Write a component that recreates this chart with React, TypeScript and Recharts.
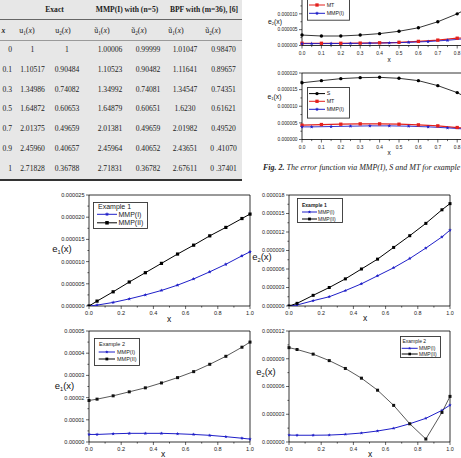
import React from 'react';
import { LineChart, Line, XAxis, YAxis, ReferenceArea } from 'recharts';

const SANS = '"Liberation Sans", Arial, sans-serif';
const SERIF = '"Liberation Serif", "Times New Roman", serif';
const BLUE = '#1f1fc8';
const RED = '#e3201c';
const BLACK = '#000000';

// ---------- Table data ----------
const groupHeads = ['Exact', 'MMP(I) with (n=5)', 'BPF with (m=36), [6]'];
const subHeadBase = ['u', 'u', 'ũ', 'ũ', 'ũ', 'ũ'];
const subHeadIdx = ['1', '2', '1', '2', '1', '2'];
const tableX = ['0', '0.1', '0.3', '0.5', '0.7', '0.9', '1'];
const exactU1 = ['1', '1.10517', '1.34986', '1.64872', '2.01375', '2.45960', '2.71828'];
const exactU2 = ['1', '0.90484', '0.74082', '0.60653', '0.49659', '0.40657', '0.36788'];
const mmpU1 = ['1.00006', '1.10523', '1.34992', '1.64879', '2.01381', '2.45964', '2.71831'];
const mmpU2 = ['0.99999', '0.90482', '0.74081', '0.60651', '0.49659', '0.40652', '0.36782'];
const bpfU1 = ['1.01047', '1.11641', '1.34547', '1.6230', '2.01982', '2.43651', '2.67611'];
const bpfU2 = ['0.98470', '0.89657', '0.74351', '0.61621', '0.49520', '0 .41070', '0 .37401'];

// ---------- Fig. 2 (top right) ----------
const fig2X = [0, 0.1, 0.2, 0.3, 0.4, 0.5, 0.6, 0.7, 0.8, 0.9, 1.0];
const fig2MmpX = [0, 0.05, 0.15, 0.25, 0.35, 0.45, 0.55, 0.65, 0.75, 0.85, 0.95, 1.0];
const fig2E2S = [3.3e-6, 3.0e-6, 3.0e-6, 3.3e-6, 3.75e-6, 4.5e-6, 5.6e-6, 7.5e-6, 10.0e-6, 13.2e-6, 17.0e-6];
const fig2E2MT = [0.7e-6, 0.7e-6, 0.7e-6, 0.75e-6, 0.85e-6, 1.0e-6, 1.3e-6, 1.7e-6, 2.3e-6, 3.0e-6, 3.9e-6];
const fig2E2MMP = [0.6e-6, 0.6e-6, 0.62e-6, 0.65e-6, 0.72e-6, 0.82e-6, 1.0e-6, 1.25e-6, 1.65e-6, 2.2e-6, 2.9e-6, 3.3e-6];
const fig2E1S = [17.05e-6, 17.7e-6, 18.3e-6, 18.6e-6, 18.7e-6, 18.4e-6, 17.7e-6, 16.2e-6, 14.1e-6, 11.0e-6, 7.5e-6];
const fig2E1MT = [4.3e-6, 4.5e-6, 4.6e-6, 4.7e-6, 4.7e-6, 4.6e-6, 4.4e-6, 4.1e-6, 3.6e-6, 3.0e-6, 2.3e-6];
const fig2E1MMP = [3.8e-6, 3.8e-6, 3.9e-6, 4.0e-6, 4.1e-6, 4.1e-6, 4.0e-6, 3.8e-6, 3.5e-6, 3.1e-6, 2.6e-6, 2.3e-6];
const fig2XTicks = [0, 0.1, 0.2, 0.3, 0.4, 0.5, 0.6, 0.7, 0.8, 0.9, 1.0];
const fig2E2YTicks = [0, 0.000005, 0.00001, 0.000015];
const fig2E1YTicks = [0, 0.000005, 0.00001, 0.000015, 0.00002];

// ---------- Bottom panels ----------
const errX = [0, 0.05, 0.15, 0.25, 0.35, 0.45, 0.55, 0.65, 0.75, 0.85, 0.95, 1.0];
const ex1E1MMP1 = [0, 0.2e-6, 0.8e-6, 1.6e-6, 2.5e-6, 3.5e-6, 4.7e-6, 6.1e-6, 7.7e-6, 9.4e-6, 11.3e-6, 12.2e-6];
const ex1E1MMP2 = [0, 1.1e-6, 3.2e-6, 5.4e-6, 7.5e-6, 9.6e-6, 11.7e-6, 13.7e-6, 15.8e-6, 17.7e-6, 19.7e-6, 20.7e-6];
const ex1E2MMP1 = [0, 0.16e-6, 0.86e-6, 1.5e-6, 2.5e-6, 3.6e-6, 4.9e-6, 6.2e-6, 7.7e-6, 9.4e-6, 11.2e-6, 12.3e-6];
const ex1E2MMP2 = [0, 0.43e-6, 1.73e-6, 3.0e-6, 4.4e-6, 6.0e-6, 7.6e-6, 9.5e-6, 11.4e-6, 13.4e-6, 15.6e-6, 16.6e-6];
const ex2E1MMP1 = [3.4e-6, 3.4e-6, 3.7e-6, 3.9e-6, 3.9e-6, 3.9e-6, 3.7e-6, 3.4e-6, 3.0e-6, 2.4e-6, 1.7e-6, 1.3e-6];
const ex2E1MMP2 = [1.87e-5, 1.93e-5, 2.08e-5, 2.26e-5, 2.44e-5, 2.66e-5, 2.9e-5, 3.17e-5, 3.5e-5, 3.86e-5, 4.27e-5, 4.5e-5];
const ex2E2MMP1 = [0.75e-6, 0.73e-6, 0.73e-6, 0.75e-6, 0.83e-6, 0.97e-6, 1.19e-6, 1.48e-6, 1.97e-6, 2.56e-6, 3.42e-6, 3.99e-6];
const ex2E2MMP2 = [10.2e-6, 10.0e-6, 9.5e-6, 8.8e-6, 7.95e-6, 6.9e-6, 5.6e-6, 3.96e-6, 1.97e-6, 0.32e-6, 3.2e-6, 4.93e-6];
const bottomXTicks = [0, 0.2, 0.4, 0.6, 0.8, 1.0];
const ex1E1YTicks = [0, 0.000005, 0.00001, 0.000015, 0.00002, 0.000025];
const ex1E2YTicks = [0, 0.000003, 0.000006, 0.000009, 0.000012, 0.000015, 0.000018];
const ex2E1YTicks = [0, 0.00001, 0.00002, 0.00003, 0.00004, 0.00005];
const ex2E2YTicks = [0, 0.000003, 0.000006, 0.000009, 0.000012];

// ---------- helpers ----------
type Pt = { x: number; y: number };
type Shape = 'square' | 'star' | 'circle';
const pts = (xs: number[], ys: number[]): Pt[] => xs.map((x, i) => ({ x, y: ys[i] }));
const withMinor = (t: number[]) => {
  const out: number[] = [];
  t.forEach((v, i) => {
    out.push(v);
    if (i < t.length - 1) out.push((v + t[i + 1]) / 2);
  });
  return out;
};
const isIn = (v: number, arr: number[]) => arr.some((m) => Math.abs(m - v) < 1e-12);

function Marker({ cx, cy, shape, size, color }: { cx: number; cy: number; shape: Shape; size: number; color: string }) {
  if (cx == null || cy == null || isNaN(cx) || isNaN(cy)) return null;
  if (shape === 'square') return <rect x={cx - size / 2} y={cy - size / 2} width={size} height={size} fill={color} />;
  if (shape === 'circle') return <circle cx={cx} cy={cy} r={size / 2} fill={color} />;
  const p: string[] = [];
  for (let i = 0; i < 10; i++) {
    const r = i % 2 === 0 ? size / 2 : size / 4.5;
    const a = -Math.PI / 2 + (i * Math.PI) / 5;
    p.push(`${cx + r * Math.cos(a)},${cy + r * Math.sin(a)}`);
  }
  return <polygon points={p.join(' ')} fill={color} />;
}

function makeYTick(major: number[], digits: number, fs: number) {
  return (p: any) => {
    const v = p.payload.value;
    const maj = isIn(v, major);
    const len = maj ? 3 : 1.6;
    return (
      <g key={`y${p.index}`}>
        <line x1={p.x} x2={p.x - len} y1={p.y} y2={p.y} stroke="#000" strokeWidth={0.6} />
        {maj && (
          <text x={p.x - 4.5} y={p.y} dy={fs * 0.35} textAnchor="end" fontSize={fs} fontFamily={SANS} fill="#222">
            {v.toFixed(digits)}
          </text>
        )}
      </g>
    );
  };
}

function makeXTick(major: number[], fs: number, gap: number) {
  return (p: any) => {
    const v = p.payload.value;
    const maj = isIn(v, major);
    const len = maj ? 3 : 1.6;
    return (
      <g key={`x${p.index}`}>
        <line x1={p.x} x2={p.x} y1={p.y} y2={p.y + len} stroke="#000" strokeWidth={0.6} />
        {maj && (
          <text x={p.x} y={p.y + gap} dy={fs * 0.35} textAnchor="middle" fontSize={fs} fontFamily={SANS} fill="#222">
            {v.toFixed(1)}
          </text>
        )}
      </g>
    );
  };
}

interface Series { data: Pt[]; color: string; width: number; shape: Shape; size: number }
interface PanelProps {
  left: number; top: number; w: number; h: number; yMax: number;
  yTicks: number[]; yDigits: number; xTicks: number[]; tickFs: number; xGap: number; series: Series[];
}

function Panel({ left, top, w, h, yMax, yTicks, yDigits, xTicks, tickFs, xGap, series }: PanelProps) {
  const L = 44, T = 6, R = 6, H = 16;
  return (
    <div style={{ position: 'absolute', left: left - L, top: top - T }}>
      <LineChart width={L + w + R} height={T + h + H} margin={{ top: T, right: R, bottom: 0, left: 0 }}>
        <XAxis dataKey="x" type="number" domain={[0, 1]} ticks={withMinor(xTicks)} interval={0} height={H}
          tickSize={0} tickMargin={0} tickLine={false} axisLine={false} tick={makeXTick(xTicks, tickFs, xGap)} />
        <YAxis type="number" domain={[0, yMax]} allowDataOverflow ticks={withMinor(yTicks)} interval={0} width={L}
          tickSize={0} tickMargin={0} tickLine={false} axisLine={false} tick={makeYTick(yTicks, yDigits, tickFs)} />
        <ReferenceArea x1={0} x2={1} y1={0} y2={yMax} fill="none" stroke="#000" strokeWidth={0.8} ifOverflow="visible" />
        {series.map((s, i) => (
          <Line key={i} data={s.data} dataKey="y" type="linear" stroke={s.color} strokeWidth={s.width}
            activeDot={false} isAnimationActive={false}
            dot={(p: any) => <Marker key={`d${i}-${p.index}`} cx={p.cx} cy={p.cy} shape={s.shape} size={s.size} color={s.color} />} />
        ))}
      </LineChart>
    </div>
  );
}

interface LegendRow { label: string; color: string; shape: Shape; size: number }
function LegendBox({ left, top, w, h, title, titleBold, titleX, titleY, rows, rowYs, lineX1, lineX2, textX, fs }: {
  left: number; top: number; w: number; h: number; title?: string; titleBold?: boolean; titleX?: number; titleY?: number;
  rows: LegendRow[]; rowYs: number[]; lineX1: number; lineX2: number; textX: number; fs: number;
}) {
  return (
    <svg style={{ position: 'absolute', left, top, overflow: 'visible' }} width={w} height={h}>
      <rect x={0.5} y={0.5} width={w - 1} height={h - 1} fill="#fff" stroke="#333" strokeWidth={0.9} />
      {title && (
        <text x={titleX} y={(titleY || 0) + fs * 0.35} fontSize={fs} fontFamily={SANS} fontWeight={titleBold ? 'bold' : 'normal'} fill="#222">
          {title}
        </text>
      )}
      {rows.map((r, i) => (
        <g key={i}>
          <line x1={lineX1} x2={lineX2} y1={rowYs[i]} y2={rowYs[i]} stroke={r.color} strokeWidth={1} />
          <Marker cx={(lineX1 + lineX2) / 2} cy={rowYs[i]} shape={r.shape} size={r.size} color={r.color} />
          <text x={textX} y={rowYs[i] + fs * 0.35} fontSize={fs} fontFamily={SANS} fill="#222">{r.label}</text>
        </g>
      ))}
    </svg>
  );
}

function AxisLabel({ cx, cy, fs, base, sub }: { cx: number; cy: number; fs: number; base: string; sub?: string }) {
  return (
    <div style={{ position: 'absolute', left: cx, top: cy, transform: 'translate(-50%,-50%)', fontFamily: SANS, fontSize: fs, color: '#111', whiteSpace: 'nowrap', lineHeight: 1 }}>
      {base}
      {sub && <span style={{ fontSize: '0.6em', position: 'relative', top: '0.35em' }}>{sub}</span>}
      {sub && '(x)'}
    </div>
  );
}

function Table() {
  const groupCenters = [54.5, 127, 204];
  const headCenters = [27, 63, 102, 139, 176, 213];
  const colCenters = [32.5, 67, 110, 148, 185, 223.5];
  const cols = [exactU1, exactU2, mmpU1, mmpU2, bpfU1, bpfU2];
  const cell = (left: number, top: number, content: React.ReactNode, key: string, extra: React.CSSProperties = {}) => (
    <div key={key} style={{ position: 'absolute', left, top, transform: 'translate(-50%,-50%)', whiteSpace: 'nowrap', lineHeight: 1, ...extra }}>
      {content}
    </div>
  );
  return (
    <div style={{ position: 'absolute', left: 0, top: 0, width: 242, height: 181, background: '#e7e7e7', fontFamily: SERIF, fontSize: 7.6, color: '#222' }}>
      <div style={{ position: 'absolute', left: 0, top: 19, width: 242, height: 1, background: '#666' }} />
      <div style={{ position: 'absolute', left: 0, top: 39.5, width: 242, height: 1.5, background: '#9a9a9a' }} />
      <div style={{ position: 'absolute', left: 0, top: 179, width: 242, height: 2, background: '#333' }} />
      {groupHeads.map((g, i) => cell(groupCenters[i], 10, g, `g${i}`, { fontWeight: 'bold' }))}
      {cell(3.5, 31, 'x', 'hx', { fontStyle: 'italic', fontWeight: 'bold' })}
      {subHeadBase.map((b, i) =>
        cell(headCenters[i], 31, (
          <span>{b}<span style={{ fontSize: '0.65em', position: 'relative', top: '0.3em' }}>{subHeadIdx[i]}</span>(<i>x</i>)</span>
        ), `h${i}`, { fontSize: 8 })
      )}
      {tableX.map((x, r) => (
        <React.Fragment key={`r${r}`}>
          <div style={{ position: 'absolute', right: 242 - 12, top: 50 + r * 19.8, transform: 'translateY(-50%)', lineHeight: 1, whiteSpace: 'nowrap' }}>{x}</div>
          {cols.map((c, ci) => cell(colCenters[ci], 50 + r * 19.8, c[r], `c${r}-${ci}`))}
        </React.Fragment>
      ))}
    </div>
  );
}

export default function App() {
  const blueStar = (data: Pt[], size: number, width: number): Series => ({ data, color: BLUE, width, shape: 'star', size });
  const blackSq = (data: Pt[], size: number, width: number, color = BLACK): Series => ({ data, color, width, shape: 'square', size });
  return (
    <div style={{ position: 'absolute', left: 0, top: 0, width: 461, height: 458, overflow: 'hidden', background: '#fff' }}>
      <Table />

      {/* Fig. 2 top: e2 */}
      <Panel left={302} top={-2.5} w={194} h={47.5} yMax={0.000015} yTicks={fig2E2YTicks} yDigits={6}
        xTicks={fig2XTicks} tickFs={4.8} xGap={8.3}
        series={[
          { data: pts(fig2X, fig2E2S), color: BLACK, width: 0.8, shape: 'circle', size: 3.4 },
          { data: pts(fig2X, fig2E2MT), color: RED, width: 1.3, shape: 'square', size: 3.3 },
          blueStar(pts(fig2MmpX, fig2E2MMP), 4, 0.9),
        ]} />
      <LegendBox left={307} top={-10} w={43} h={30.7} rows={[
        { label: 'S', color: BLACK, shape: 'circle', size: 3.4 },
        { label: 'MT', color: RED, shape: 'square', size: 3.3 },
        { label: 'MMP(I)', color: BLUE, shape: 'star', size: 4 },
      ]} rowYs={[7, 15, 23.3]} lineX1={2} lineX2={18} textX={19.7} fs={5.3} />
      <AxisLabel cx={275} cy={21.7} fs={6.8} base="e" sub="2" />
      <AxisLabel cx={389} cy={60} fs={6.5} base="x" />

      {/* Fig. 2 bottom: e1 */}
      <Panel left={302} top={72.5} w={194} h={66.5} yMax={0.00002} yTicks={fig2E1YTicks} yDigits={6}
        xTicks={fig2XTicks} tickFs={4.8} xGap={8}
        series={[
          { data: pts(fig2X, fig2E1S), color: BLACK, width: 0.8, shape: 'circle', size: 3.4 },
          { data: pts(fig2X, fig2E1MT), color: RED, width: 1.3, shape: 'square', size: 3.3 },
          blueStar(pts(fig2MmpX, fig2E1MMP), 4, 0.9),
        ]} />
      <LegendBox left={307} top={86.7} w={43} h={31.6} rows={[
        { label: 'S', color: BLACK, shape: 'circle', size: 3.4 },
        { label: 'MT', color: RED, shape: 'square', size: 3.3 },
        { label: 'MMP(I)', color: BLUE, shape: 'star', size: 4 },
      ]} rowYs={[6.6, 14.3, 22.3]} lineX1={2} lineX2={18} textX={19.7} fs={5.3} />
      <AxisLabel cx={274.5} cy={96.7} fs={6.8} base="e" sub="1" />
      <AxisLabel cx={389} cy={152.7} fs={6.5} base="x" />

      <div style={{ position: 'absolute', left: 263, top: 168, transform: 'translateY(-50%)', fontFamily: SERIF, fontStyle: 'italic', fontSize: 8.0, whiteSpace: 'nowrap', color: '#222', lineHeight: 1 }}>
        <b>Fig. 2.</b> The error function via MMP(I), S and MT for example 1.
      </div>

      {/* Example 1, e1 */}
      <Panel left={89} top={195} w={161} h={111} yMax={0.000025} yTicks={ex1E1YTicks} yDigits={6}
        xTicks={bottomXTicks} tickFs={5.6} xGap={7}
        series={[blueStar(pts(errX, ex1E1MMP1), 4, 1), blackSq(pts(errX, ex1E1MMP2), 3.2, 1)]} />
      <LegendBox left={93} top={202} w={55} h={27} title="Example 1" titleX={5} titleY={4.5} rows={[
        { label: 'MMP(I)', color: BLUE, shape: 'star', size: 4.5 },
        { label: 'MMP(II)', color: BLACK, shape: 'square', size: 3.5 },
      ]} rowYs={[12.3, 20.8]} lineX1={4} lineX2={24} textX={25.5} fs={7} />
      <AxisLabel cx={62} cy={249} fs={9.5} base="e" sub="1" />
      <AxisLabel cx={169} cy={319} fs={8.5} base="x" />

      {/* Example 1, e2 */}
      <Panel left={289} top={195} w={161} h={111} yMax={0.000018} yTicks={ex1E2YTicks} yDigits={6}
        xTicks={bottomXTicks} tickFs={5.4} xGap={7}
        series={[blueStar(pts(errX, ex1E2MMP1), 3.8, 1), blackSq(pts(errX, ex1E2MMP2), 3, 1)]} />
      <LegendBox left={297} top={198} w={46} h={25} title="Example 1" titleBold titleX={5} titleY={7} rows={[
        { label: 'MMP(I)', color: BLUE, shape: 'star', size: 3.5 },
        { label: 'MMP(II)', color: BLACK, shape: 'square', size: 2.8 },
      ]} rowYs={[14, 21]} lineX1={5} lineX2={20} textX={21} fs={5} />
      <AxisLabel cx={262} cy={257} fs={9.5} base="e" sub="2" />
      <AxisLabel cx={365} cy={318} fs={8.5} base="x" />

      {/* Example 2, e1 */}
      <Panel left={89} top={331} w={161} h={111} yMax={0.00005} yTicks={ex2E1YTicks} yDigits={5}
        xTicks={bottomXTicks} tickFs={5.6} xGap={7}
        series={[blueStar(pts(errX, ex2E1MMP1), 3.8, 1), blackSq(pts(errX, ex2E1MMP2), 3, 0.7, '#111')]} />
      <LegendBox left={94} top={338} w={46} h={28} title="Example 2" titleX={5} titleY={6} rows={[
        { label: 'MMP(I)', color: BLUE, shape: 'star', size: 3.5 },
        { label: 'MMP(II)', color: BLACK, shape: 'square', size: 2.8 },
      ]} rowYs={[14, 21]} lineX1={4.7} lineX2={21} textX={23} fs={5.5} />
      <AxisLabel cx={64.5} cy={385.7} fs={9.5} base="e" sub="1" />
      <AxisLabel cx={163} cy={454} fs={8.5} base="x" />

      {/* Example 2, e2 */}
      <Panel left={289} top={331} w={161} h={111} yMax={0.000012} yTicks={ex2E2YTicks} yDigits={6}
        xTicks={bottomXTicks} tickFs={5.4} xGap={7}
        series={[blueStar(pts(errX, ex2E2MMP1), 3.6, 1), blackSq(pts(errX, ex2E2MMP2), 3, 0.7, '#111')]} />
      <LegendBox left={400} top={336} w={41} h={22} title="Example 2" titleX={2.5} titleY={5.7} rows={[
        { label: 'MMP(I)', color: BLUE, shape: 'star', size: 3.3 },
        { label: 'MMP(II)', color: BLACK, shape: 'square', size: 2.6 },
      ]} rowYs={[12.3, 18]} lineX1={1.7} lineX2={17.7} textX={19} fs={5} />
      <AxisLabel cx={266} cy={371.7} fs={9.5} base="e" sub="2" />
      <AxisLabel cx={370} cy={454} fs={8.5} base="x" />
    </div>
  );
}
